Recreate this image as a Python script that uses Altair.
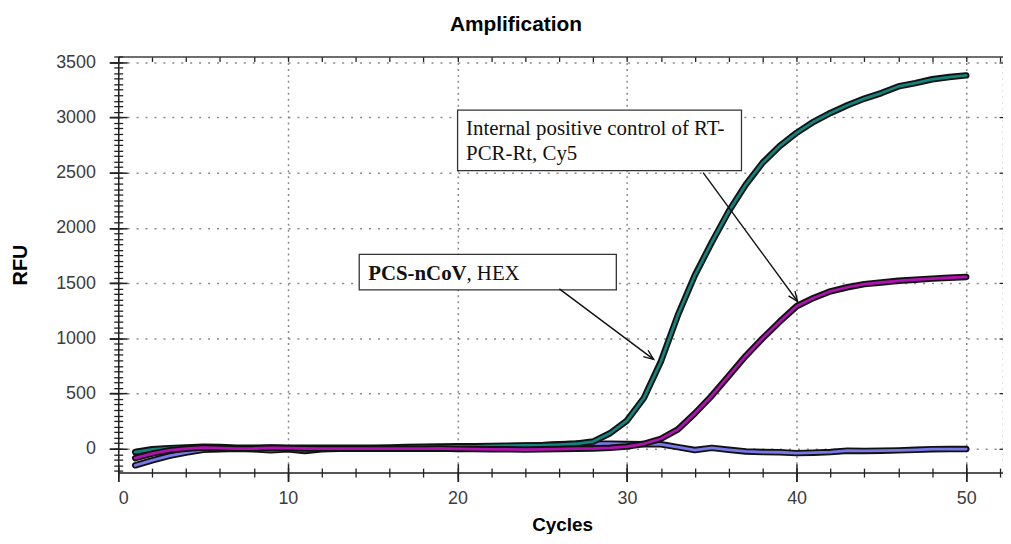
import altair as alt
import pandas as pd

# ---------------- data ----------------
cycles = list(range(1, 51))

neg_rfu = [-150, -105, -65, -35, -10, -5, 0, -5, -15, -5,
           -20, -5, 0, 0, 0, 2, 5, 8, 10, 12,
           15, 18, 22, 28, 32, 40, 45, 45, 45, 42,
           40, 40, 15, -12, 8, -10, -25, -30, -32, -40,
           -36, -30, -18, -20, -18, -15, -10, -4, -3, -3]

cy5_rfu = [-30, -5, 5, 12, 18, 15, 10, 10, 12, 10,
           8, 8, 8, 8, 10, 12, 15, 18, 20, 22,
           22, 25, 28, 30, 32, 38, 45, 65, 140, 255,
           460, 790, 1210, 1570, 1870, 2150, 2390, 2590, 2740, 2860,
           2960, 3040, 3110, 3170, 3220, 3280, 3310, 3345, 3365, 3380]

hex_rfu = [-85, -45, -15, 0, 10, 5, 0, 2, 8, 5,
           2, 0, 0, 0, 0, 0, 0, 0, 2, -2,
           -3, -5, -5, -8, -5, -3, 0, 2, 8, 20,
           45, 90, 175, 320, 480, 660, 840, 1000, 1150, 1290,
           1365, 1425, 1462, 1490, 1505, 1520, 1530, 1540, 1548, 1555]

series_names = ["Negative", "Cy5", "HEX"]
series_values = [neg_rfu, cy5_rfu, hex_rfu]
series_colors = ["#7878EA", "#0F857D", "#B012B0"]

x_major = [0, 10, 20, 30, 40, 50]
x_minor = list(range(0, 53, 2))
y_major = [0, 500, 1000, 1500, 2000, 2500, 3000, 3500]
y_minor = list(range(-200, 3551, 50))

x_domain = [0, 52.17]
y_domain = [-216, 3551]

# annotation boxes / texts / arrows (data units)
box_left = [20.01, 14.21]
box_right = [36.75, 29.37]
box_top = [3066, 1759]
box_bottom = [2517, 1439]

note_text = ["Internal positive control of RT-\nPCR-Rt, Cy5", ", HEX"]
note_x = [20.51, 20.53]
note_y = [2841, 1528]
bold_text = ["PCS-nCoV"]
bold_x = [14.74]
bold_y = [1528]

arrow_x1 = [34.49, 26.01]
arrow_y1 = [2499, 1447]
arrow_x2 = [40.06, 31.57]
arrow_y2 = [1333, 809]
arrow_angle = [323.7, 306.8]

# ---------------- tables ----------------
rows = []
for name, vals in zip(series_names, series_values):
    for c, v in zip(cycles, vals):
        rows.append({"cycle": c, "rfu": v, "series": name})
df = pd.DataFrame(rows)

box_df = pd.DataFrame({"x1": box_left, "x2": box_right, "y1": box_top, "y2": box_bottom})
note_df = pd.DataFrame({"x": note_x, "y": note_y, "t": note_text})
bold_df = pd.DataFrame({"x": bold_x, "y": bold_y, "t": bold_text})
arrow_df = pd.DataFrame({"x1": arrow_x1, "y1": arrow_y1, "x2": arrow_x2,
                         "y2": arrow_y2, "a": arrow_angle})

xs = alt.Scale(domain=x_domain, nice=False, zero=False)
ys = alt.Scale(domain=y_domain, nice=False, zero=False)

SANS = "Liberation Sans"
SERIF = "Liberation Serif"
TK = "#222222"

# ---------------- axes ----------------
ax_x_main = alt.Axis(orient="bottom", values=x_major, format="d", tickSize=9, tickColor=TK,
                     tickWidth=1.5, domain=True, domainColor=TK, domainWidth=1.5,
                     grid=True, gridColor="#8a8a8a", gridDash=[2, 4], gridWidth=1.5,
                     labelFont=SANS, labelFontSize=18, labelColor="#3c3c3c", labelPadding=8,
                     title="Cycles", titleFont=SANS, titleFontSize=19, titleFontWeight="bold",
                     titleColor="black", titleX=447, titleY=52, titleAlign="center",
                     titleBaseline="middle")
ax_y_main = alt.Axis(orient="left", values=y_major, format="d", tickSize=9, tickColor=TK,
                     tickWidth=1.5, domain=True, domainColor=TK, domainWidth=1.5,
                     grid=True, gridColor="#8a8a8a", gridDash=[2, 7], gridWidth=1.5,
                     labelFont=SANS, labelFontSize=18, labelColor="#3c3c3c", labelPadding=14,
                     title="RFU", titleFont=SANS, titleFontSize=20, titleFontWeight="bold",
                     titleColor="black", titleX=-98, titleY=209.5, titleAngle=270,
                     titleAlign="center", titleBaseline="middle")

ax_x_cross = alt.Axis(orient="bottom", values=x_major, offset=-9, tickSize=18, tickColor=TK,
                      tickWidth=1.5, domain=False, grid=False, labels=False, title=None)
ax_y_cross = alt.Axis(orient="left", values=y_major, offset=-9, tickSize=18, tickColor=TK,
                      tickWidth=1.5, domain=False, grid=False, labels=False, title=None)

ax_x_minor = alt.Axis(orient="bottom", values=x_minor, offset=-4.5, tickSize=9, tickColor=TK,
                      tickWidth=1.3, domain=False, grid=False, labels=False, title=None)
ax_y_minor = alt.Axis(orient="left", values=y_minor, offset=-4.5, tickSize=9, tickColor=TK,
                      tickWidth=1.3, domain=False, grid=False, labels=False, title=None)

ax_x_top = alt.Axis(orient="top", values=x_minor, offset=-5, tickSize=5, tickColor=TK,
                    tickWidth=1.3, domain=False, grid=False, labels=False, title=None)
ax_y_right = alt.Axis(orient="right", values=y_major, offset=-4, tickSize=8, tickColor=TK,
                      tickWidth=1.3, domain=False, grid=False, labels=False, title=None)

ax_x_topline = alt.Axis(orient="top", values=x_major, ticks=False, domain=True,
                        domainColor="#444444", domainWidth=1.5, grid=False, labels=False,
                        title=None)
ax_y_rightline = alt.Axis(orient="right", values=y_major, ticks=False, domain=True,
                          domainColor="#8a8a8a", domainDash=[2, 4], domainWidth=1.5,
                          grid=False, labels=False, title=None)

axis_sets = [(ax_x_main, ax_y_main), (ax_x_cross, ax_y_cross), (ax_x_minor, ax_y_minor),
             (ax_x_top, ax_y_right), (ax_x_topline, ax_y_rightline), (None, None)]

# ---------------- curve layers (black outline then colour) ----------------
layers = []
k = 0
for name, color in zip(series_names, series_colors):
    for col, w in (("#111111", 6.5), (color, 2.8)):
        ax_x, ax_y = axis_sets[k]
        k += 1
        layers.append(
            alt.Chart(df).transform_filter(alt.datum.series == name)
            .mark_line(color=col, strokeWidth=w, strokeJoin="round", strokeCap="round")
            .encode(x=alt.X("cycle:Q", scale=xs, axis=ax_x),
                    y=alt.Y("rfu:Q", scale=ys, axis=ax_y))
        )

boxes = alt.Chart(box_df).mark_rect(fill="white", stroke="#333333", strokeWidth=1.3).encode(
    x=alt.X("x1:Q", scale=xs, axis=None), x2="x2:Q",
    y=alt.Y("y1:Q", scale=ys, axis=None), y2="y2:Q")

notes = alt.Chart(note_df).mark_text(align="left", baseline="alphabetic", font=SERIF,
                                     fontSize=21, lineBreak="\n", lineHeight=25,
                                     color="#111111").encode(
    x=alt.X("x:Q", scale=xs, axis=None), y=alt.Y("y:Q", scale=ys, axis=None), text="t:N")

bold_notes = alt.Chart(bold_df).mark_text(align="left", baseline="alphabetic", font=SERIF,
                                          fontSize=21, fontWeight="bold",
                                          color="#111111").encode(
    x=alt.X("x:Q", scale=xs, axis=None), y=alt.Y("y:Q", scale=ys, axis=None), text="t:N")

arrows = alt.Chart(arrow_df).mark_rule(color="#111111", strokeWidth=1.4).encode(
    x=alt.X("x1:Q", scale=xs, axis=None), y=alt.Y("y1:Q", scale=ys, axis=None),
    x2="x2:Q", y2="y2:Q")

heads = alt.Chart(arrow_df).mark_point(shape="M -0.4 -1 L 0 0 L 0.4 -1", filled=False,
                                       size=400, color="#111111", strokeWidth=1.4,
                                       opacity=1).encode(
    x=alt.X("x2:Q", scale=xs, axis=None), y=alt.Y("y2:Q", scale=ys, axis=None),
    angle=alt.Angle("a:Q", scale=None))

chart = (
    alt.layer(*layers, boxes, notes, bold_notes, arrows, heads)
    .resolve_axis(x="independent", y="independent")
    .properties(
        width=891, height=419,
        autosize=alt.AutoSizeParams(type="none"),
        padding={"left": 111, "top": 47, "right": 0, "bottom": 60},
        title=alt.TitleParams("Amplification", font=SANS, fontSize=21, fontWeight="bold",
                              color="black", anchor="middle", dx=-45, offset=18),
    )
    .configure_view(stroke=None)
    .configure(background="white")
)

chart.save("out.html", embed_options={"renderer": "svg", "actions": False})
